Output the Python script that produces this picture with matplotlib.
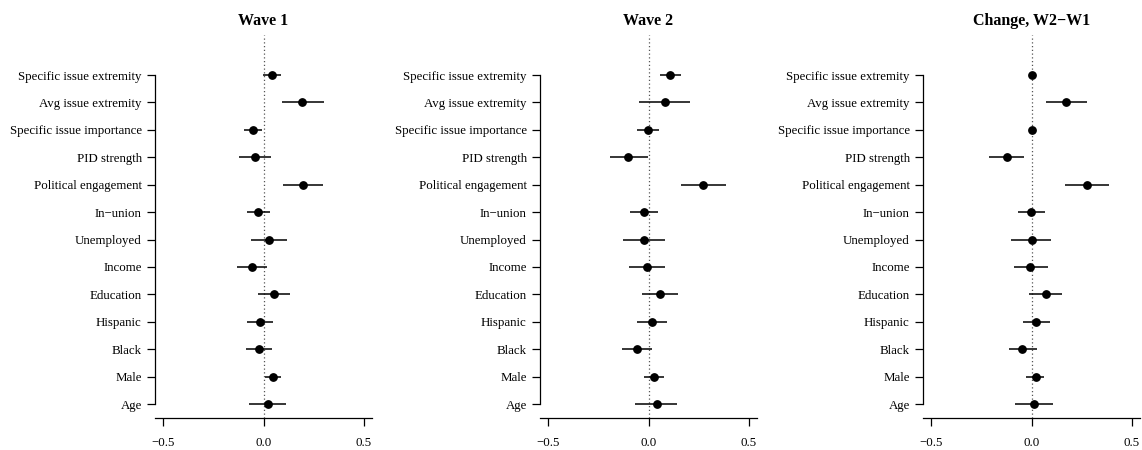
import numpy as np
import matplotlib.pyplot as plt

plt.rcParams['font.family'] = ['Liberation Serif', 'DejaVu Serif']

# Covariates, top to bottom
labels = ['Specific issue extremity', 'Avg issue extremity', 'Specific issue importance',
          'PID strength', 'Political engagement', 'In\u2212union', 'Unemployed', 'Income',
          'Education', 'Hispanic', 'Black', 'Male', 'Age']

# Wave 1 estimates and 95% intervals
w1_est = [0.041, 0.192, -0.051, -0.043, 0.196, -0.027, 0.028, -0.058, 0.053, -0.017, -0.022, 0.045, 0.020]
w1_lo = [-0.003, 0.090, -0.098, -0.124, 0.095, -0.083, -0.063, -0.133, -0.027, -0.080, -0.085, 0.005, -0.073]
w1_hi = [0.088, 0.300, -0.005, 0.038, 0.299, 0.030, 0.119, 0.018, 0.131, 0.045, 0.040, 0.085, 0.113]

# Wave 2
w2_est = [0.109, 0.080, -0.003, -0.100, 0.274, -0.022, -0.023, -0.008, 0.058, 0.017, -0.058, 0.028, 0.040]
w2_lo = [0.056, -0.046, -0.056, -0.194, 0.161, -0.093, -0.126, -0.096, -0.032, -0.055, -0.134, -0.020, -0.065]
w2_hi = [0.164, 0.207, 0.051, -0.003, 0.386, 0.048, 0.080, 0.080, 0.149, 0.090, 0.017, 0.075, 0.143]

# Change, W2-W1
ch_est = [0.000, 0.171, 0.000, -0.124, 0.277, -0.003, 0.000, -0.005, 0.071, 0.022, -0.045, 0.020, 0.013]
ch_lo = [-0.003, 0.070, -0.003, -0.211, 0.169, -0.068, -0.100, -0.085, -0.012, -0.043, -0.114, -0.025, -0.081]
ch_hi = [0.003, 0.275, 0.003, -0.035, 0.385, 0.065, 0.098, 0.080, 0.154, 0.090, 0.027, 0.063, 0.109]

panels = [
    ('Wave 1', w1_est, w1_lo, w1_hi),
    ('Wave 2', w2_est, w2_lo, w2_hi),
    ('Change, W2\u2212W1', ch_est, ch_lo, ch_hi),
]

fig = plt.figure(figsize=(11.42, 4.5), dpi=100)
lefts = [155 / 1142, 540 / 1142, 923 / 1142]
width = 217 / 1142
bottom = 1 - 418 / 450
height = (418 - 35) / 450

n = len(labels)
ypos = np.arange(n, 0, -1)  # top label at n, bottom at 1

for left, (title, est, lo, hi) in zip(lefts, panels):
    ax = fig.add_axes([left, bottom, width, height])
    ax.axvline(0, color='#555555', linestyle=(0, (1, 2)), linewidth=0.9, zorder=1)
    ax.hlines(ypos, lo, hi, color='black', linewidth=1.1, zorder=2)
    ax.plot(est, ypos, 'o', color='black', markersize=5.3, zorder=3)

    ax.set_xlim(-0.542, 0.542)
    ax.set_ylim(0.49, n + 1.46)
    ax.set_xticks([-0.5, 0, 0.5])
    ax.set_xticklabels(['\u22120.5', '0.0', '0.5'])
    ax.set_yticks(ypos)
    ax.set_yticklabels(labels)

    for s in ['top', 'right']:
        ax.spines[s].set_visible(False)
    ax.spines['left'].set_bounds(1, n)
    ax.spines['left'].set_linewidth(0.9)
    ax.spines['bottom'].set_linewidth(0.9)
    ax.tick_params(direction='out', length=5.5, width=0.9, labelsize=9.3, pad=4)
    ax.tick_params(axis='x', pad=8)
    ax.set_title(title, fontsize=11.5, fontweight='bold', pad=7)

fig.savefig('out.png', dpi=100)
